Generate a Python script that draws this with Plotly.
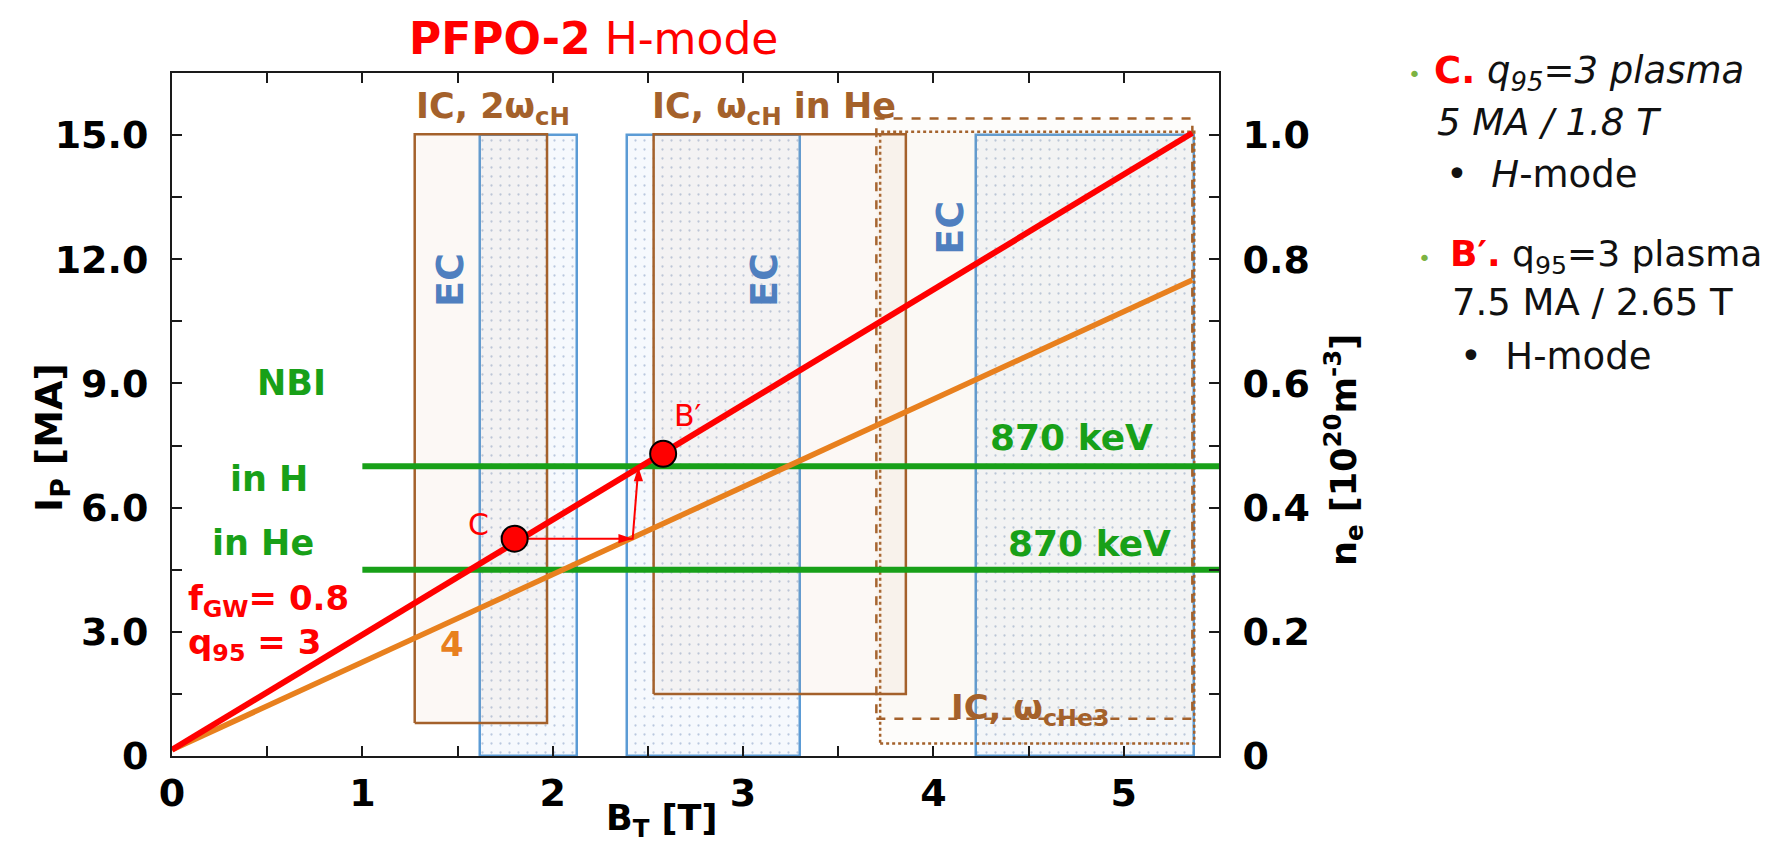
import plotly.graph_objects as go

# ---------------- data ----------------
BT_LINE = [0.0, 5.36]
IP_Q95_3 = [0.15, 15.05]          # f_GW = 0.8, q95 = 3
IP_Q95_4 = [0.15, 11.5]           # q95 = 4

NBI_BT = [1.0, 5.5]
NBI_H_IP = 7.0
NBI_HE_IP = 4.5

POINT_BT = [1.8, 2.58]
POINT_IP = [5.25, 7.3]
POINT_LABELS = ["C", "B′"]

ARROW_BT = [1.8, 2.42, 2.45]
ARROW_IP = [5.25, 5.25, 6.98]

EC_BT_LO = [1.617, 2.39, 4.225]
EC_BT_HI = [2.125, 3.30, 5.37]
EC_IP_TOP = [15.0, 15.0, 15.0]

IC_BT_LO = [1.275, 2.53]
IC_BT_HI = [1.97, 3.855]
IC_IP_LO = [0.8, 1.5]
IC_IP_HI = [15.02, 15.02]

HE3_DASH = [3.70, 5.36, 0.9, 15.4]
HE3_DOT = [3.72, 5.37, 0.3, 15.08]

X_TICKS = [0, 1, 2, 3, 4, 5]
X_TICK_TEXT = ["0", "1", "2", "3", "4", "5"]
X_MINOR = [0.5, 1.5, 2.5, 3.5, 4.5]
Y_TICKS = [0, 3, 6, 9, 12, 15]
Y_TICK_TEXT = ["0", "3.0", "6.0", "9.0", "12.0", "15.0"]
Y_MINOR = [1.5, 4.5, 7.5, 10.5, 13.5]
Y2_TICKS = [0, 0.2, 0.4, 0.6, 0.8, 1.0]
Y2_TICK_TEXT = ["0", "0.2", "0.4", "0.6", "0.8", "1.0"]
Y2_MINOR = [0.1, 0.3, 0.5, 0.7, 0.9]

# ---------------- styles ----------------
FONT = "DejaVu Sans"
RED = "#FF0000"
ORANGE = "#E8801E"
GREEN = "#18A018"
BROWN = "#A4612B"
BLUE = "#5B9BD5"
ECTXT = "#4F7FBF"

# plot area in pixels
L, R, T, B = 164, 1211, 65, 748
W, H = 1777, 842

fig = go.Figure()

# EC bands (dotted pattern bars)
fig.add_trace(go.Bar(
    x=[(a + b) / 2 for a, b in zip(EC_BT_LO, EC_BT_HI)],
    y=EC_IP_TOP,
    width=[b - a for a, b in zip(EC_BT_LO, EC_BT_HI)],
    base=0,
    marker=dict(color="#F6F9FD",
                pattern=dict(shape=".", fgcolor="#7F98C0", bgcolor="#F6F9FD",
                             size=9, solidity=0.05),
                line=dict(color=BLUE, width=2.5)),
    hoverinfo="skip", showlegend=False))


def box(x0, x1, y0, y1, dash, fill):
    fig.add_trace(go.Scatter(
        x=[x0, x1, x1, x0, x0], y=[y0, y0, y1, y1, y0],
        mode="lines", fill="toself", fillcolor=fill,
        line=dict(color=BROWN, width=2.5, dash=dash),
        hoverinfo="skip", showlegend=False))


box(*HE3_DOT, "dot", "rgba(215,170,130,0.04)")
box(*HE3_DASH, "dash", "rgba(215,170,130,0.04)")
for a, b, c, d in zip(IC_BT_LO, IC_BT_HI, IC_IP_LO, IC_IP_HI):
    box(a, b, c, d, "solid", "rgba(215,170,130,0.08)")

# NBI lines
for ip in (NBI_H_IP, NBI_HE_IP):
    fig.add_trace(go.Scatter(x=NBI_BT, y=[ip, ip], mode="lines",
                             line=dict(color=GREEN, width=6),
                             hoverinfo="skip", showlegend=False))

# q95 lines
fig.add_trace(go.Scatter(x=BT_LINE, y=IP_Q95_4, mode="lines",
                         line=dict(color=ORANGE, width=5.5),
                         hoverinfo="skip", showlegend=False))
fig.add_trace(go.Scatter(x=BT_LINE, y=IP_Q95_3, mode="lines",
                         line=dict(color=RED, width=6),
                         hoverinfo="skip", showlegend=False))

# arrow C -> B' (shaft + heads)
fig.add_trace(go.Scatter(x=ARROW_BT, y=ARROW_IP, mode="lines",
                         line=dict(color=RED, width=2),
                         hoverinfo="skip", showlegend=False))
fig.add_trace(go.Scatter(x=ARROW_BT[1:], y=ARROW_IP[1:], mode="markers",
                         marker=dict(symbol="arrow", size=15, color=RED,
                                     angle=[90, 0], standoff=0,
                                     line=dict(width=0)),
                         hoverinfo="skip", showlegend=False))

# points
fig.add_trace(go.Scatter(x=POINT_BT, y=POINT_IP, mode="markers",
                         marker=dict(color=RED, size=26,
                                     line=dict(color="black", width=2)),
                         hoverinfo="skip", showlegend=False))

# secondary axis anchor trace
fig.add_trace(go.Scatter(x=[0], y=[0], yaxis="y2", mode="markers",
                         marker=dict(opacity=0), hoverinfo="skip",
                         showlegend=False))

ann = []


def t(x, y, text, color, size, bold=True, angle=0, xanchor="center"):
    s = "<b>" + text + "</b>" if bold else text
    ann.append(dict(x=x, y=y, xref="x", yref="y", text=s, showarrow=False,
                    textangle=angle, xanchor=xanchor, yanchor="middle",
                    font=dict(family=FONT, size=size, color=color)))


def px(xp):
    return (xp - L) / (R - L)


def py(yp):
    return (B - yp) / (B - T)


def tp(xp, yp, text, color, size, angle=0, xanchor="center"):
    ann.append(dict(x=px(xp), y=py(yp), xref="paper", yref="paper", text=text,
                    showarrow=False, textangle=angle, xanchor=xanchor,
                    yanchor="middle", font=dict(family=FONT, size=size, color=color)))


# point labels
t(1.61, 5.6, POINT_LABELS[0], RED, 30, bold=False)
t(2.71, 8.22, POINT_LABELS[1], RED, 30, bold=False)

# IC / EC labels
t(1.27, 15.64, "IC, 2ω<sub>cH</sub>", BROWN, 35, xanchor="left")
t(2.51, 15.64, "IC, ω<sub>cH</sub> in He", BROWN, 35, xanchor="left")
t(4.08, 1.12, "IC, ω<sub>cHe3</sub>", BROWN, 34, xanchor="left")
t(1.46, 11.5, "EC", ECTXT, 38, angle=-90)
t(3.11, 11.5, "EC", ECTXT, 38, angle=-90)
t(4.09, 12.75, "EC", ECTXT, 38, angle=-90)

# NBI labels
t(0.63, 9.0, "NBI", GREEN, 35)
t(0.51, 6.7, "in H", GREEN, 35)
t(0.48, 5.14, "in He", GREEN, 35)
t(4.725, 7.69, "870 keV", GREEN, 36)
t(4.82, 5.13, "870 keV", GREEN, 36)

# q95 labels
t(0.075, 3.75, "f<sub>GW</sub>= 0.8", RED, 34, xanchor="left")
t(0.075, 2.7, "q<sub>95</sub> = 3", RED, 34, xanchor="left")
t(1.47, 2.7, "4", ORANGE, 34)

# title
tp(585, 30, "<b>PFPO-2</b> H-mode", RED, 44)

# axis titles
tp(43, 430, "<b>I<sub>P</sub> [MA]</b>", "black", 38, angle=-90)
tp(653, 812, "<b>B<sub>T</sub> [T]</b>", "black", 35)
tp(1336, 442, "<b>n<sub>e</sub> [10<sup>20</sup>m<sup>-3</sup>]</b>", "black", 35, angle=-90)

# side notes
BULLET = "#7CB342"
side = [
    (1398, 67, "<span style='color:%s'>•</span>" % BULLET, 22),
    (1424, 65, "<b><span style='color:red'>C.</span></b> <i>q<sub>95</sub>=3 plasma</i>", 37),
    (1427, 114, "<i>5 MA / 1.8 T</i>", 37),
    (1436, 167, "•  <i>H</i>-mode", 37),
    (1408, 250, "<span style='color:%s'>•</span>" % BULLET, 22),
    (1440, 248, "<b><span style='color:red'>B′.</span></b> q<sub>95</sub>=3 plasma", 36),
    (1442, 294, "7.5 MA / 2.65 T", 37),
    (1450, 348, "•  H-mode", 37),
]
for xp, yp, txt, sz in side:
    tp(xp, yp, txt, "#111111", sz, xanchor="left")

axis_common = dict(showline=True, linecolor="#1a1a1a", linewidth=2,
                   ticks="inside", ticklen=10, tickwidth=2, tickcolor="#1a1a1a",
                   showgrid=False, zeroline=False, automargin=False,
                   tickfont=dict(family=FONT, size=38, color="black", weight="bold"))


def minor(vals):
    return dict(tickvals=vals, ticks="inside", ticklen=10, tickwidth=2,
                tickcolor="#1a1a1a", showgrid=False)


fig.update_layout(
    width=W, height=H,
    margin=dict(l=L, r=W - R, t=T, b=H - B),
    paper_bgcolor="white", plot_bgcolor="white",
    showlegend=False,
    xaxis=dict(range=[0, 5.5], tickvals=X_TICKS, ticktext=X_TICK_TEXT,
               minor=minor(X_MINOR), mirror="ticks", ticklabelstandoff=2,
               **axis_common),
    yaxis=dict(range=[0, 16.5], tickvals=Y_TICKS, ticktext=Y_TICK_TEXT,
               minor=minor(Y_MINOR), ticklabelstandoff=14, **axis_common),
    yaxis2=dict(range=[0, 1.1], tickvals=Y2_TICKS, ticktext=Y2_TICK_TEXT,
                minor=minor(Y2_MINOR), overlaying="y", side="right",
                ticklabelstandoff=14, **axis_common),
    annotations=ann,
    bargap=0,
)

fig.write_html("out.html")
